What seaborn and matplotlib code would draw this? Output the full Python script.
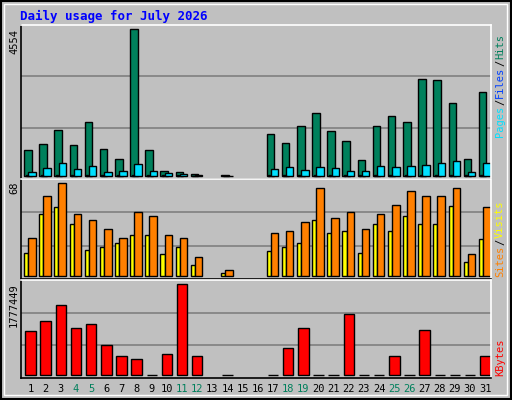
import matplotlib
matplotlib.use("Agg")
import matplotlib.pyplot as plt
import seaborn as sns
import numpy as np

sns.set_style("white")
plt.rcParams['font.family'] = ['DejaVu Sans Mono', 'DejaVu Sans']

nan = np.nan
days = list(range(1, 32))
weekend = [4, 5, 11, 12, 18, 19, 25, 26]
hits = [814, 1000, 1432, 968, 1679, 845, 536, 4554, 814, 165, 134, 72, nan, 41, nan, nan,
        1308, 1030, 1556, 1958, 1401, 1092, 505, 1556, 1865, 1679, 3008, 2978, 2267, 536, 2607]
files = [30, 30, 30, 30, 30, 30, 30, 30, 30, 30, 30, 20, nan, 0, nan, nan,
         30, 30, 30, 30, 30, 30, 30, 30, 30, 30, 30, 30, 30, 30, 30]
pages = [134, 258, 412, 227, 319, 134, 165, 381, 165, 103, 72, 41, nan, 0, nan, nan,
         227, 288, 196, 288, 258, 165, 165, 319, 288, 319, 350, 412, 474, 134, 412]
visits = [17, 45, 50, 38, 19, 21, 24, 30, 30, 16, 21, 8, nan, 2, nan, nan,
          18, 21, 24, 41, 31, 33, 17, 38, 33, 44, 38, 38, 51, 10, 27]
sites = [28, 58, 68, 45, 41, 34, 28, 47, 44, 30, 28, 14, nan, 4, nan, nan,
         31, 33, 39, 64, 42, 47, 34, 45, 52, 62, 58, 58, 64, 16, 50]
kbytes = [859000, 1055000, 1367000, 918000, 996000, 586000, 371000, 312000, 0, 410000,
          1777449, 371000, nan, 0, nan, nan, 0, 527000, 918000, 0, 0, 1191000, 0, 0,
          371000, 0, 879000, 0, 0, 0, 371000]

W, H = 512, 400
fig = plt.figure(figsize=(W/100, H/100), dpi=100, facecolor="#C0C0C0")
x = np.arange(31)

def mkax(top, bot):
    ax = fig.add_axes([21/W, 1-bot/H, 470/W, (bot-top)/H])
    ax.set_facecolor("#C0C0C0")
    ax.set_xlim(0, 31)
    ax.set_xticks([]); ax.set_yticks([])
    for s in ax.spines.values():
        s.set_linewidth(1.2)
    ax.spines['top'].set_color("white"); ax.spines['right'].set_color("white")
    ax.spines['bottom'].set_color("black"); ax.spines['left'].set_color("black")
    return ax

def grid(ax):
    y0, y1 = ax.get_ylim()
    for f in (1/3, 2/3):
        ax.axhline(y0 + f*(y1-y0), color="#808080", lw=1.2, zorder=0)

kw = dict(edgecolor="black", linewidth=1, align="edge")

# top panel
ax1 = mkax(25, 179)
M = 4554
ax1.set_ylim(-8/442*M, 455/442*M)
grid(ax1)
ax1.bar(x+0.2, hits, width=0.5, color="#00805C", **kw)
ax1.bar(x+0.48, pages, width=0.49, color="#00E0FF", **kw)
ax1.bar(x+0.3, files, width=0.15, color="#0040FF", **kw)

# middle panel
ax2 = mkax(179, 279)
ax2.set_ylim(-9/276*68, 287/276*68)
grid(ax2)
ax2.bar(x+0.2, visits, width=0.27, color="#FFFF00", **kw)
ax2.bar(x+0.47, sites, width=0.5, color="#FF8000", **kw)

# bottom panel
ax3 = mkax(280, 378)
K = 1777449
ax3.set_ylim(-8/273*K, 285/273*K)
grid(ax3)
ax3.bar(x+0.28, kbytes, width=0.69, color="#FF0000", **kw)

# labels
fig.text(20/W, 1-16/H, "Daily usage for July 2026", color="#0000FF", fontsize=9,
         fontweight="bold", va="center", ha="left")
for ax, lab, top in ((ax1, "4554", 29), (ax2, "68", 181), (ax3, "1777449", 283)):
    fig.text(14/W, 1-top/H, lab, rotation=90, fontsize=7.5, ha="center", va="top", color="black")

def rlabel(parts, bottom):
    y = bottom
    for txt, col in parts:
        t = fig.text(500/W, 1-y/H, txt, rotation=90, fontsize=7.5, color=col,
                     ha="center", va="bottom")
        y -= len(txt)*6.2 + 1
rlabel([("Pages", "#00E0FF"), ("/", "#000000"), ("Files", "#0040FF"), ("/", "#000000"), ("Hits", "#00805C")], 137)
rlabel([("Sites", "#FF8000"), ("/", "#000000"), ("Visits", "#FFFF00")], 277)
rlabel([("KBytes", "#FF0000")], 376)

for d in days:
    xp = 21 + (d-1+0.62)*470/31
    fig.text(xp/W, 1-389/H, str(d), fontsize=7.5, ha="center", va="center",
             color="#00805C" if d in weekend else "black")

# outer frame
fig.patches.append(plt.Rectangle((1/W, 1/H), 1-2/W, 1-2/H, transform=fig.transFigure,
                                 fill=False, edgecolor="black", lw=1.5))
fig.patches.append(plt.Rectangle((4/W, 5/H), 1-9/W, 1-9/H, transform=fig.transFigure,
                                 fill=False, edgecolor="white", lw=1))

fig.savefig("out.png", dpi=100, facecolor=fig.get_facecolor())
